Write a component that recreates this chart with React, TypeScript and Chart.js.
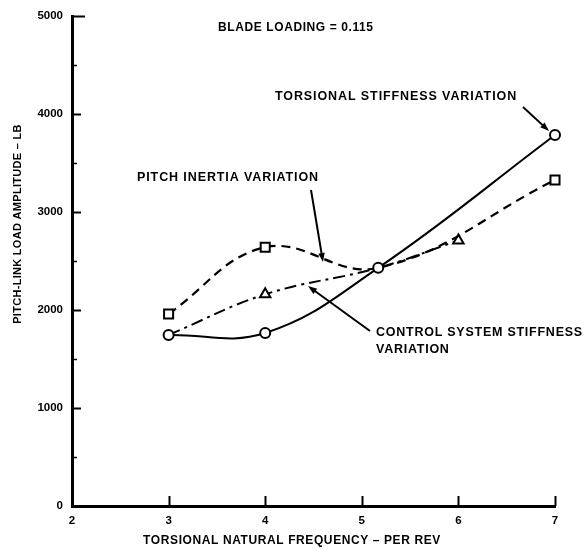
import React, { useEffect, useRef } from "react";
import { Chart, registerables } from "chart.js";

Chart.register(...registerables);

// ---- data ----
const xTickValues = [2, 3, 4, 5, 6, 7];
const yTickValues = [0, 1000, 2000, 3000, 4000, 5000];
const yMinorTickValues = [500, 1500, 2500, 3500, 4500];

const torsionalX = [3, 4, 5.17, 7];
const torsionalY = [1745, 1765, 2430, 3786];

const inertiaX = [3, 4, 5.17, 7];
const inertiaY = [1960, 2640, 2430, 3327];

const controlX = [3, 4, 5.17, 6];
const controlY = [1745, 2160, 2430, 2710];

const FONT = "'Liberation Sans', Arial, sans-serif";

function pts(xs: number[], ys: number[]) {
  return xs.map((x, i) => ({ x, y: ys[i] }));
}

function arrow(ctx: CanvasRenderingContext2D, x1: number, y1: number, x2: number, y2: number) {
  const ang = Math.atan2(y2 - y1, x2 - x1);
  const len = 9;
  const half = 3.2;
  ctx.beginPath();
  ctx.moveTo(x1, y1);
  ctx.lineTo(x2 - Math.cos(ang) * len * 0.8, y2 - Math.sin(ang) * len * 0.8);
  ctx.lineWidth = 2;
  ctx.stroke();
  ctx.beginPath();
  ctx.moveTo(x2, y2);
  ctx.lineTo(x2 - Math.cos(ang) * len + Math.sin(ang) * half, y2 - Math.sin(ang) * len - Math.cos(ang) * half);
  ctx.lineTo(x2 - Math.cos(ang) * len - Math.sin(ang) * half, y2 - Math.sin(ang) * len + Math.cos(ang) * half);
  ctx.closePath();
  ctx.fill();
}

function setSpacing(ctx: CanvasRenderingContext2D, s: string) {
  try { (ctx as any).letterSpacing = s; } catch (e) {}
}

const decorPlugin = {
  id: "decor",
  afterDraw(chart: any) {
    const { ctx, chartArea, scales } = chart;
    const xs = scales.x;
    const ys = scales.y;
    const left = chartArea.left;
    const bottom = chartArea.bottom;
    ctx.save();
    ctx.strokeStyle = "#000";
    ctx.fillStyle = "#000";
    ctx.lineCap = "butt";

    // inward major ticks on y
    yTickValues.forEach((v) => {
      if (v === 0) return;
      const py = Math.round(ys.getPixelForValue(v)) + 0.5;
      ctx.beginPath();
      ctx.lineWidth = 2;
      ctx.moveTo(left, py);
      ctx.lineTo(left + (v === 5000 ? 13 : 9), py);
      ctx.stroke();
    });
    yMinorTickValues.forEach((v) => {
      const py = Math.round(ys.getPixelForValue(v)) + 0.5;
      ctx.beginPath();
      ctx.lineWidth = 1.5;
      ctx.moveTo(left, py);
      ctx.lineTo(left + 5, py);
      ctx.stroke();
    });
    // inward ticks on x
    xTickValues.forEach((v) => {
      if (v === 2) return;
      const px = Math.round(xs.getPixelForValue(v)) + 0.5;
      ctx.beginPath();
      ctx.lineWidth = 2;
      ctx.moveTo(px, bottom);
      ctx.lineTo(px, bottom - 10);
      ctx.stroke();
    });

    // texts
    ctx.textBaseline = "middle";
    ctx.textAlign = "left";
    ctx.font = `bold 12px ${FONT}`;
    setSpacing(ctx, "0.6px");
    ctx.fillText("BLADE LOADING = 0.115", 218, 28);
    ctx.font = `bold 12.5px ${FONT}`;
    setSpacing(ctx, "0.9px");
    ctx.fillText("TORSIONAL STIFFNESS VARIATION", 275, 97);
    ctx.fillText("PITCH INERTIA VARIATION", 137, 178);
    setSpacing(ctx, "0.75px");
    ctx.fillText("CONTROL SYSTEM STIFFNESS", 376, 333);
    ctx.fillText("VARIATION", 376, 350);

    // axis titles
    ctx.font = `bold 12px ${FONT}`;
    setSpacing(ctx, "0.6px");
    ctx.textAlign = "center";
    ctx.fillText("TORSIONAL NATURAL FREQUENCY \u2013 PER REV", 292, 541);
    ctx.font = `bold 11px ${FONT}`;
    setSpacing(ctx, "0.3px");
    ctx.save();
    ctx.translate(18, 224);
    ctx.rotate(-Math.PI / 2);
    ctx.fillText("PITCH-LINK LOAD AMPLITUDE \u2013 LB", 0, 0);
    ctx.restore();
    setSpacing(ctx, "0px");

    // arrows
    arrow(ctx, 523, 107, 549, 131);
    arrow(ctx, 311, 190, 323, 262);
    arrow(ctx, 370, 331, 308, 286);

    ctx.restore();
  },
};

export default function App() {
  const ref = useRef<HTMLCanvasElement>(null);
  useEffect(() => {
    document.body.style.margin = "0";
    const canvas = ref.current!;
    const tickFont = { family: FONT, size: 11.5, weight: "bold" as const };
    const chart = new Chart(canvas, {
      type: "scatter",
      data: {
        datasets: [
          {
            label: "Torsional stiffness variation",
            data: pts(torsionalX, torsionalY),
            showLine: true,
            clip: false,
            borderColor: "#000",
            borderWidth: 2,
            tension: 0.4,
            pointStyle: "circle",
            pointRadius: 5,
            pointBorderWidth: 2,
            pointBackgroundColor: "#fff",
            pointBorderColor: "#000",
          },
          {
            label: "Pitch inertia variation",
            data: pts(inertiaX, inertiaY),
            showLine: true,
            clip: false,
            borderColor: "#000",
            borderWidth: 2.2,
            borderDash: [9, 6],
            tension: 0.4,
            pointStyle: "rect",
            pointRadius: (c: any) => (c.dataIndex === 2 ? 0 : 6.4),
            pointBorderWidth: 2,
            pointBackgroundColor: "#fff",
            pointBorderColor: "#000",
          },
          {
            label: "Control system stiffness variation",
            data: pts(controlX, controlY),
            showLine: true,
            clip: false,
            borderColor: "#000",
            borderWidth: 2,
            borderDash: [12, 5, 3, 5],
            tension: 0.4,
            pointStyle: "triangle",
            pointRadius: (c: any) => (c.dataIndex === 1 || c.dataIndex === 3 ? 6 : 0),
            pointBorderWidth: 2,
            pointBackgroundColor: "#fff",
            pointBorderColor: "#000",
          },
        ],
      },
      options: {
        animation: false,
        responsive: false,
        devicePixelRatio: 1,
        layout: { padding: { top: 16, right: 32, left: 0, bottom: 0 } },
        plugins: { legend: { display: false }, tooltip: { enabled: false } },
        scales: {
          x: {
            type: "linear",
            min: 2,
            max: 7,
            afterBuildTicks: (s: any) => {
              s.ticks = xTickValues.map((v) => ({ value: v }));
            },
            afterFit: (s: any) => {
              s.height = 45;
            },
            grid: { display: false, drawTicks: false },
            border: { display: true, color: "#000", width: 3 },
            ticks: { font: tickFont, color: "#000", padding: 8, callback: (v: any) => String(v) },
          },
          y: {
            type: "linear",
            min: 0,
            max: 5000,
            afterBuildTicks: (s: any) => {
              s.ticks = yTickValues.map((v) => ({ value: v }));
            },
            afterFit: (s: any) => {
              s.width = 72;
            },
            grid: { display: false, drawTicks: false },
            border: { display: true, color: "#000", width: 3 },
            ticks: { font: tickFont, color: "#000", padding: 9, callback: (v: any) => String(v) },
          },
        },
      },
      plugins: [decorPlugin],
    });
    return () => chart.destroy();
  }, []);
  return (
    <div style={{ width: 587, height: 551 }}>
      <canvas ref={ref} width={587} height={551} style={{ display: "block" }} />
    </div>
  );
}
